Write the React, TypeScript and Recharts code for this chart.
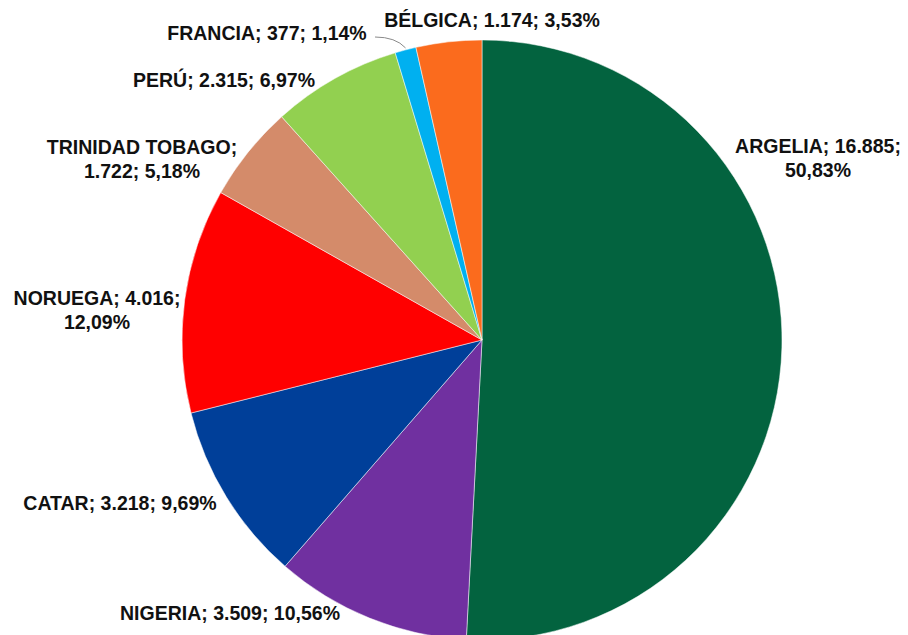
import React from "react";
import { PieChart, Pie, Cell } from "recharts";

const countries = [
  "ARGELIA",
  "NIGERIA",
  "CATAR",
  "NORUEGA",
  "TRINIDAD TOBAGO",
  "PERÚ",
  "FRANCIA",
  "BÉLGICA",
];
const volumes = [16885, 3509, 3218, 4016, 1722, 2315, 377, 1174];
const shares = [50.83, 10.56, 9.69, 12.09, 5.18, 6.97, 1.14, 3.53];
const colors = [
  "#03633f",
  "#7030a0",
  "#003f99",
  "#ff0000",
  "#d48b6a",
  "#92d050",
  "#00b0f0",
  "#fb6b1d",
];

// label placement relative to the pie centre, and how each label wraps
const labelLayout = [
  { dx: 336, dy: -182, wrap: 2 },
  { dx: -252, dy: 273, wrap: 0 },
  { dx: -362, dy: 163, wrap: 0 },
  { dx: -385, dy: -30, wrap: 2 },
  { dx: -340, dy: -181, wrap: 1 },
  { dx: -258, dy: -260, wrap: 0 },
  { dx: -215, dy: -307, wrap: 0 },
  { dx: 10, dy: -320, wrap: 0 },
];

const data = countries.map((name, i) => ({
  name,
  value: volumes[i],
  share: shares[i],
}));

const fmtNum = (v: number) =>
  v.toString().replace(/\B(?=(\d{3})+(?!\d))/g, ".");
const fmtPct = (p: number) => p.toFixed(2).replace(".", ",") + "%";

const RAD = Math.PI / 180;

const renderLabel = (props: any) => {
  const { cx, cy, index, midAngle, outerRadius } = props;
  const d = data[index];
  const lay = labelLayout[index];
  const x = cx + lay.dx;
  const y = cy + lay.dy;
  const a = `${d.name};`;
  const b = `${fmtNum(d.value)};`;
  const c = fmtPct(d.share);
  let lines: string[];
  if (lay.wrap === 2) lines = [`${a} ${b}`, c];
  else if (lay.wrap === 1) lines = [a, `${b} ${c}`];
  else lines = [`${a} ${b} ${c}`];
  const lh = 24;
  const y0 = y - ((lines.length - 1) * lh) / 2;
  let leader = null;
  if (d.name === "FRANCIA") {
    const px = cx + outerRadius * Math.cos(-midAngle * RAD);
    const py = cy + outerRadius * Math.sin(-midAngle * RAD);
    const ex = x + 108;
    const ey = y + 4;
    leader = (
      <path
        d={`M${ex},${ey} Q${px - 10},${ey} ${px},${py - 2}`}
        stroke="#8a8a8a"
        strokeWidth={1}
        fill="none"
      />
    );
  }
  return (
    <g>
      {leader}
      <text
        x={x}
        y={y0}
        textAnchor="middle"
        dominantBaseline="central"
        fontFamily="'Liberation Sans', Arial, sans-serif"
        fontWeight="bold"
        fontSize={19.5}
        fill="#111"
      >
        {lines.map((l, i) => (
          <tspan key={i} x={x} dy={i === 0 ? 0 : lh}>
            {l}
          </tspan>
        ))}
      </text>
    </g>
  );
};

export default function App() {
  return (
    <div
      style={{
        position: "fixed",
        left: 0,
        top: 0,
        width: 908,
        height: 635,
        overflow: "hidden",
        background: "#fff",
      }}
    >
      <PieChart
        width={908}
        height={645}
        margin={{ top: 0, right: 0, bottom: 0, left: 0 }}
      >
        <Pie
          data={data}
          dataKey="value"
          nameKey="name"
          cx={482}
          cy={340}
          outerRadius={300}
          startAngle={90}
          endAngle={-270}
          stroke="#ffffff"
          strokeWidth={0.5}
          label={renderLabel}
          labelLine={false}
          isAnimationActive={false}
        >
          {data.map((d, i) => (
            <Cell key={d.name} fill={colors[i]} />
          ))}
        </Pie>
      </PieChart>
    </div>
  );
}
